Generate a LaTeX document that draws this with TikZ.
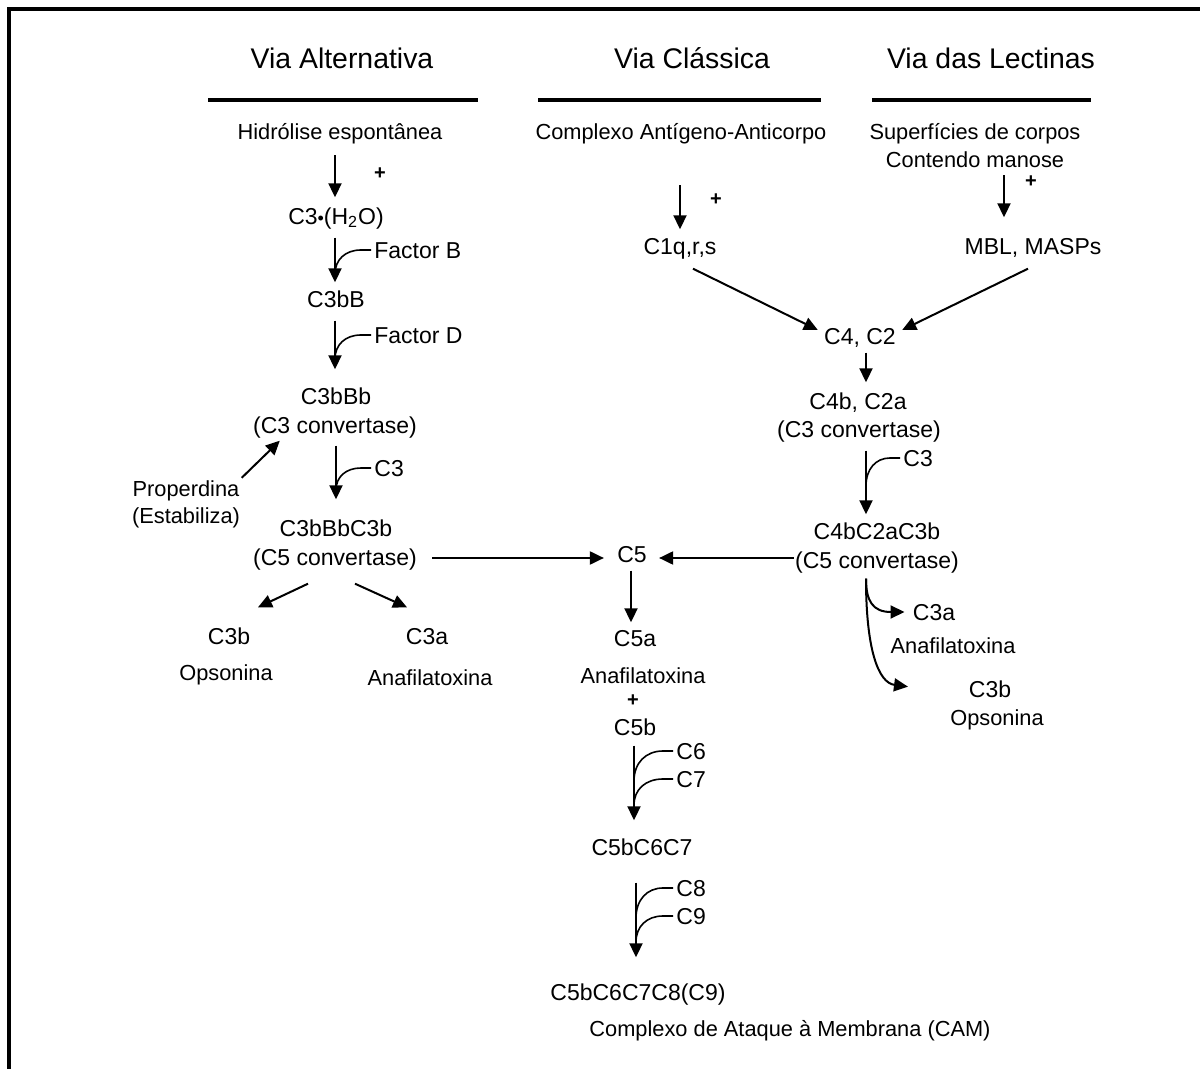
\documentclass[tikz,border=0pt]{standalone}
\usepackage{fontspec}
\setmainfont{Liberation Sans}
\usetikzlibrary{arrows.meta,calc}
\newcommand{\feeder}[3]{\draw[feed] ($(#1)+(-3,0)$) -- ($(#1)+(-13,0)$) .. controls ($(#1)+({-13-0.6*(#2-13)},0)$) and ($(#1)+(-#2,{0.4*#3})$) .. ($(#1)+(-#2,#3)$);}
\begin{document}
\begin{tikzpicture}[x=0.5pt,y=-0.5pt,
  hdr/.style={font=\fontsize{14.2}{16}\selectfont, inner sep=0pt, text height=10.2pt, text depth=0pt},
  mn/.style={font=\fontsize{11.5}{13}\selectfont, inner sep=0pt, text height=8.3pt, text depth=0pt},
  sm/.style={font=\fontsize{10.9}{12}\selectfont, inner sep=0pt, text height=7.8pt, text depth=0pt},
  plussign/.style={font=\fontsize{10}{10}\selectfont\bfseries, inner sep=0pt, text height=5pt, text depth=0pt},
  arr/.style={line width=1pt, -{Triangle[length=7pt,width=6.5pt]}},
  feed/.style={line width=0.8pt},
  rulebar/.style={line width=2pt}]
\useasboundingbox (0,0) rectangle (1200,1069);
% frame
\draw[line width=2.2pt] (1200,9) -- (9,9) -- (9,1069);
% headers
\node[hdr] (hA) at (342,58) {Via Alternativa};
\node[hdr] (hC) at (692,58) {Via Clássica};
\node[hdr] (hL) at (991,58) {Via das Lectinas};
\draw[rulebar] (208,100) -- (478,100);
\draw[rulebar] (538,100) -- (821,100);
\draw[rulebar] (872,100) -- (1091,100);
% row of triggers
\node[sm] (hid) at (340,132) {Hidrólise espontânea};
\node[sm] (cac) at (681,132) {Complexo Antígeno-Anticorpo};
\node[sm] (sup) at (975,132) {Superfícies de corpos};
\node[sm] (man) at (975,160) {Contendo manose};
\node[plussign] (p1) at (380,175) {+};
\node[plussign] (p2) at (716,201) {+};
\node[plussign] (p3) at (1031,183) {+};
% alternative pathway
\node[mn] (c3w) at (336,216) {C3{\fontsize{9}{9}\selectfont•}(H\textsubscript{2}O)};
\node[mn,anchor=west] (fb) at (374,250) {Factor B};
\node[mn] (c3bB) at (336,299) {C3bB};
\node[mn,anchor=west] (fd) at (374,335) {Factor D};
\node[mn] (c3bBb) at (336,396) {C3bBb};
\node[mn] (c3cL) at (335,425) {(C3 convertase)};
\node[mn,anchor=west] (c3L) at (374,468) {C3};
\node[sm] (prop) at (186,489) {Properdina};
\node[sm] (estab) at (186,516) {(Estabiliza)};
\node[mn] (c5bbL) at (336,528) {C3bBbC3b};
\node[mn] (c5cL) at (335,557) {(C5 convertase)};
\node[mn] (c3bL) at (229,636) {C3b};
\node[sm] (opsL) at (226,673) {Opsonina};
\node[mn] (c3aL) at (427,636) {C3a};
\node[sm] (anaL) at (430,678) {Anafilatoxina};
% classical and lectin pathways
\node[mn] (c1q) at (680,246) {C1q,r,s};
\node[mn] (mbl) at (1033,246) {MBL, MASPs};
\node[mn] (c4c2) at (860,336) {C4, C2};
\node[mn] (c4b) at (858,401) {C4b, C2a};
\node[mn] (c3cR) at (859,429) {(C3 convertase)};
\node[mn,anchor=west] (c3R) at (903,458) {C3};
\node[mn] (c5bbR) at (877,531) {C4bC2aC3b};
\node[mn] (c5cR) at (877,560) {(C5 convertase)};
\node[mn] (c3aR) at (934,612) {C3a};
\node[sm] (anaR) at (953,646) {Anafilatoxina};
\node[mn] (c3bR) at (990,689) {C3b};
\node[sm] (opsR) at (997,718) {Opsonina};
% terminal pathway
\node[mn] (c5) at (632,554) {C5};
\node[mn] (c5a) at (635,638) {C5a};
\node[sm] (anaM) at (643,676) {Anafilatoxina};
\node[plussign] (plusM) at (633,701) {+};
\node[mn] (c5b) at (635,727) {C5b};
\node[mn,anchor=west] (c6) at (676,751) {C6};
\node[mn,anchor=west] (c7) at (676,779) {C7};
\node[mn] (c567) at (642,847) {C5bC6C7};
\node[mn,anchor=west] (c8) at (676,888) {C8};
\node[mn,anchor=west] (c9) at (676,916) {C9};
\node[mn] (mac) at (638,992) {C5bC6C7C8(C9)};
\node[sm] (cam) at (790,1029) {Complexo de Ataque à Membrana (CAM)};
% connectors: alternative
\draw[arr] ($(hid.south)+(-5,15)$) -- ($(c3w.north)+(-1,-10)$);
\draw[arr] ($(c3w.south)+(-1,13)$) -- ($(c3bB.north)+(-1,-8)$);
\feeder{fb.west}{39}{24}
\draw[arr] ($(c3bB.south)+(-1,13)$) -- ($(c3bBb.north)+(-1,-18)$);
\feeder{fd.west}{39}{24}
\draw[arr] ($(c3cL.south)+(1,12)$) -- ($(c5bbL.north)+(0,-20)$);
\feeder{c3L.west}{38}{22}
\draw[arr] ($(prop.north east)+(2,-3)$) -- ($(c3cL.south west)+(27,7)$);
\draw[arr] ($(c5cL.east)+(15,1)$) -- ($(c5.west)+(-13,4)$);
\draw[arr] ($(c5cL.south)+(-27,18)$) -- ($(c3bL.north)+(29,-20)$);
\draw[arr] ($(c5cL.south)+(20,18)$) -- ($(c3aL.north)+(-20,-20)$);
% connectors: classical / lectin
\draw[arr] ($(cac.south)+(-1,45)$) -- ($(c1q.north)+(0,-8)$);
\draw[arr] ($(man.south)+(29,7)$) -- ($(mbl.north)+(-29,-20)$);
\draw[arr] ($(c1q.south)+(13,14)$) -- ($(c4c2.west)+(-6,-6)$);
\draw[arr] ($(mbl.south)+(-5,14)$) -- ($(c4c2.east)+(6,-6)$);
\draw[arr] ($(c4c2.south)+(6,8)$) -- ($(c4b.north)+(8,-10)$);
\draw[arr] ($(c3cR.south)+(7,13)$) -- ($(c5bbR.north)+(-11,-8)$);
\feeder{c3R.west}{37}{28}
\draw[arr] ($(c5cR.west)+(-1,-2)$) -- ($(c5.east)+(12,4)$);
\draw[arr] ($(c5cR.south)+(-11,10)$) .. controls ($(c5cR.south)+(-11,32)$) and ($(c3aR.west)+(-40,0)$) .. ($(c3aR.west)+(-8,0)$);
\draw[arr] ($(c5cR.south)+(-11,10)$) .. controls ($(c5cR.south)+(-11,80)$) and ($(c5cR.south)+(1,114)$) .. ($(c5cR.south)+(31,118)$);
% connectors: terminal
\draw[arr] ($(c5.south)+(-1,8)$) -- ($(c5a.north)+(-4,-7)$);
\draw[arr] ($(c5b.south)+(-1,10)$) -- ($(c567.north)+(-8,-18)$);
\feeder{c6.west}{42}{30}
\feeder{c7.west}{42}{26}
\draw[arr] ($(c567.south)+(-6,27)$) -- ($(mac.north)+(-2,-26)$);
\feeder{c8.west}{40}{30}
\feeder{c9.west}{40}{26}
\end{tikzpicture}
\end{document}
